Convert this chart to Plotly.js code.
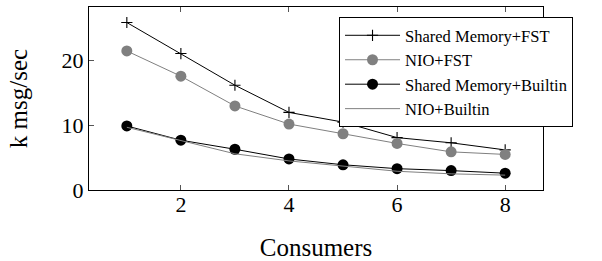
<!DOCTYPE html>
<html>
<head>
<meta charset="utf-8">
<script src="https://cdn.plot.ly/plotly-3.0.1.min.js"></script>
<style>
html,body{margin:0;padding:0;background:#fff;}
#chart{width:602px;height:261px;}
</style>
</head>
<body>
<div id="chart"></div>
<script>
const consumers = [1, 2, 3, 4, 5, 6, 7, 8];
const shmFst = [25.9, 21.1, 16.2, 12.0, 10.5, 8.1, 7.3, 6.2];
const nioFst = [21.5, 17.6, 13.0, 10.2, 8.7, 7.2, 5.9, 5.5];
const shmBuiltin = [9.9, 7.7, 6.3, 4.8, 3.9, 3.3, 3.0, 2.6];
const nioBuiltin = [9.7, 7.6, 5.6, 4.5, 3.7, 2.9, 2.5, 2.3];
const seriesNames = ["Shared Memory+FST", "NIO+FST", "Shared Memory+Builtin", "NIO+Builtin"];
const xTicks = [2, 4, 6, 8];
const yTicks = [0, 10, 20];

const traces = [
  {x: consumers, y: shmFst, name: seriesNames[0], mode: "lines+markers",
   line: {color: "#000", width: 1}, marker: {symbol: "cross-thin-open", size: 8, color: "#000", line: {color: "#000", width: 1.1}}},
  {x: consumers, y: nioFst, name: seriesNames[1], mode: "lines+markers",
   line: {color: "#808080", width: 1}, marker: {symbol: "circle", size: 11, color: "#808080"}},
  {x: consumers, y: shmBuiltin, name: seriesNames[2], mode: "lines+markers",
   line: {color: "#000", width: 1}, marker: {symbol: "circle", size: 11, color: "#000"}},
  {x: consumers, y: nioBuiltin, name: seriesNames[3], mode: "lines",
   line: {color: "#808080", width: 1}}
];

const SERIF = "'Liberation Serif', 'Times New Roman', serif";
const layout = {
  width: 602, height: 261,
  margin: {l: 89, r: 59, t: 7, b: 71},
  paper_bgcolor: "#fff", plot_bgcolor: "#fff",
  font: {family: SERIF, color: "#000"},
  showlegend: true,
  legend: {
    x: 0.5507, xanchor: "left", y: 0.945, yanchor: "top",
    bgcolor: "#fff", bordercolor: "#000", borderwidth: 1,
    font: {family: SERIF, size: 16.5, color: "#000"},
    itemwidth: 55, traceorder: "normal"
  },
  xaxis: {
    range: [0.3, 8.7], tickvals: xTicks, ticktext: xTicks.map(String),
    ticks: "inside", ticklen: 5, tickcolor: "#555", tickwidth: 1,
    showline: true, linecolor: "#000", linewidth: 1, mirror: "allticks",
    showgrid: false, zeroline: false, ticklabelstandoff: -5,
    tickfont: {family: SERIF, size: 22, color: "#000"},
    title: {text: "Consumers", font: {family: SERIF, size: 25, color: "#000"}, standoff: 24}
  },
  yaxis: {
    range: [0, 28.3], tickvals: yTicks, ticktext: yTicks.map(String),
    ticks: "inside", ticklen: 5, tickcolor: "#555", tickwidth: 1,
    showline: true, linecolor: "#000", linewidth: 1, mirror: "allticks",
    showgrid: false, zeroline: false,
    tickfont: {family: SERIF, size: 22, color: "#000"},
    title: {text: "k msg/sec", font: {family: SERIF, size: 25, color: "#000"}, standoff: 26}
  }
};
Plotly.newPlot("chart", traces, layout, {staticPlot: true, displayModeBar: false});
</script>
</body>
</html>
